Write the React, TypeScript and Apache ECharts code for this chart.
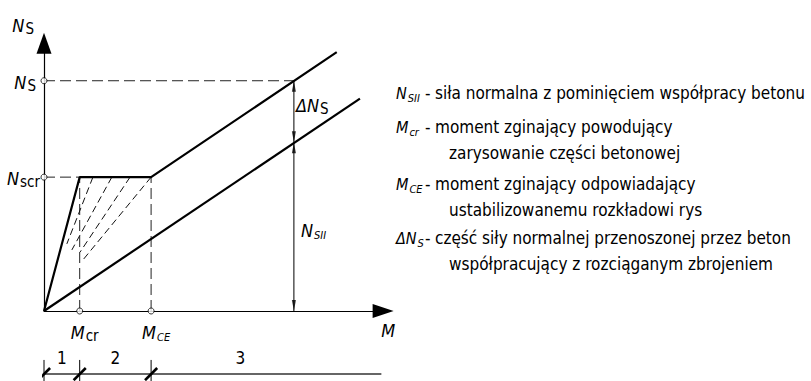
import React, { useEffect, useRef } from "react";
import * as echarts from "echarts";

// Characteristic moments and forces (diagram units)
const M_CR = 1;
const M_CE = 3;
const M_REF = 7;
const N_SCR = 3.75;
const N_S = 6.45;
const N_SII = 4.73;

const X_MAX = 9.5;
const Y_MAX = 7.5;

// Member response including tension stiffening of concrete
const TENSION_PATH: number[][] = [
  [0, 0],
  [M_CR, N_SCR],
  [M_CE, N_SCR],
  [8.2, 7.25],
];
// Bare reinforcement response (fully cracked section)
const STEEL_PATH: number[][] = [
  [0, 0],
  [8.85, 5.95],
];
// Crack formation fan between M_cr and M_CE
const CRACK_FAN: number[][][] = [
  [[1.37, N_SCR], [0.64, 1.88]],
  [[1.9, N_SCR], [0.78, 1.71]],
  [[2.41, N_SCR], [1.01, 1.65]],
  [[M_CE, N_SCR], [1.09, 1.43]],
];
// Stages along the moment axis
const ZONE_BOUNDS = [0, M_CR, M_CE, 8];
const ZONE_LABELS = ["1", "2", "3"];
const DIM_LINE_RANGE = [-0.2, 9.45];

const LEGEND_SYMBOLS = ["{lv|N}{sub|SII}", "{lv|M}{sub|cr}", "{lv|M}{sub|CE}", "{lv|ΔN}{sub|S}"];
const LEGEND_TEXT = [
  ["siła normalna z pominięciem współpracy betonu"],
  ["moment zginający powodujący", "zarysowanie części betonowej"],
  ["moment zginający odpowiadający", "ustabilizowanemu rozkładowi rys"],
  ["część siły normalnej przenoszonej przez beton", "współpracujący z rozciąganym zbrojeniem"],
];

const FONT = "'DejaVu Sans Condensed', 'Liberation Sans Narrow', 'DejaVu Sans', sans-serif";
const INK = "#000";

const RICH = {
  v: { fontSize: 18, fontStyle: "italic", fontFamily: FONT, fill: INK },
  lv: { fontSize: 16, fontStyle: "italic", fontFamily: FONT, fill: INK },
  sub: { fontSize: 11, fontStyle: "italic", fontFamily: FONT, fill: INK, padding: [10, 0, 0, 1] },
  subu: { fontSize: 15, fontFamily: FONT, fill: INK, padding: [7, 0, 0, 1] },
  d: { fontSize: 17, fontFamily: FONT, fill: INK },
};

const GRID_LEFT = 44;
const UNIT = 35.7;
const ORIGIN_Y = 311;

function seg(data: number[][], style: any, z = 3, axis = 0) {
  return {
    type: "line",
    xAxisIndex: axis,
    yAxisIndex: axis,
    data,
    symbol: "none",
    silent: true,
    clip: false,
    z,
    lineStyle: style,
  };
}

export default function App() {
  const ref = useRef<HTMLDivElement>(null);

  useEffect(() => {
    const chart = echarts.init(ref.current!, null, { renderer: "svg" });
    const right = 811 - GRID_LEFT - X_MAX * UNIT;
    const solid = { color: INK, width: 2.2 };
    const thin = { color: INK, width: 1 };
    const dashed = { color: "#222", width: 1, type: [11, 5] };
    const hatch = { color: "#111", width: 1, type: [7, 4] };

    const series: any[] = [
      seg(TENSION_PATH, solid, 5),
      seg(STEEL_PATH, solid, 5),
      seg([[0, N_S], [M_REF, N_S]], dashed),
      seg([[0, N_SCR], [M_CR, N_SCR]], dashed),
      seg([[M_CR, 0], [M_CR, N_SCR]], dashed),
      seg([[M_CE, 0], [M_CE, N_SCR]], dashed),
      ...CRACK_FAN.map((l) => seg(l, hatch)),
      seg([[M_REF, 0], [M_REF, N_S]], thin, 4),
      {
        type: "scatter",
        silent: true,
        z: 6,
        symbol: "triangle",
        symbolSize: [4, 11],
        itemStyle: { color: INK },
        data: [
          { value: [M_REF, N_S], symbolOffset: [0, 5.5] },
          { value: [M_REF, N_SII], symbolRotate: 180, symbolOffset: [0, -5.5] },
          { value: [M_REF, N_SII], symbolOffset: [0, 5.5] },
          { value: [M_REF, 0], symbolRotate: 180, symbolOffset: [0, -5.5] },
        ],
      },
      {
        type: "scatter",
        silent: true,
        z: 7,
        symbol: "circle",
        symbolSize: 6,
        itemStyle: { color: "#fff", borderColor: INK, borderWidth: 1 },
        data: [
          [0, N_S],
          [0, N_SCR],
          [M_CR, 0],
          [M_CE, 0],
        ],
      },
      // stage dimension line
      seg([[DIM_LINE_RANGE[0], 0.27], [DIM_LINE_RANGE[1], 0.27]], { color: "#333", width: 1.3 }, 3, 1),
      ...ZONE_BOUNDS.slice(0, 3).map((m) => seg([[m, 0], [m, 0.81]], { color: INK, width: 1 }, 3, 1)),
      ...ZONE_BOUNDS.slice(0, 3).map((m) =>
        seg([[m - 0.17, 0.03], [m + 0.17, 0.5]], { color: INK, width: 2.6 }, 4, 1)
      ),
    ];

    chart.setOption({
      animation: false,
      grid: [
        { left: GRID_LEFT, right, top: ORIGIN_Y - Y_MAX * UNIT, bottom: 381 - ORIGIN_Y },
        { left: GRID_LEFT, right, top: 355, bottom: 0 },
      ],
      xAxis: [
        {
          type: "value",
          min: 0,
          max: X_MAX,
          gridIndex: 0,
          axisLine: { show: true, symbol: ["none", "triangle"], symbolSize: [14, 21], lineStyle: { color: INK, width: 1.2 } },
          axisTick: { show: false },
          axisLabel: { show: false },
          splitLine: { show: false },
        },
        { type: "value", min: 0, max: X_MAX, gridIndex: 1, show: false },
      ],
      yAxis: [
        {
          type: "value",
          min: 0,
          max: Y_MAX,
          gridIndex: 0,
          axisLine: { show: true, symbol: ["none", "triangle"], symbolSize: [15, 21], lineStyle: { color: INK, width: 1.2 } },
          axisTick: { show: false },
          axisLabel: { show: false },
          splitLine: { show: false },
        },
        { type: "value", min: 0, max: 1, gridIndex: 1, show: false },
      ],
      series,
    });

    const px = (x: number, y: number) => chart.convertToPixel({ xAxisIndex: 0, yAxisIndex: 0 }, [x, y]) as number[];
    const px2 = (x: number, y: number) => chart.convertToPixel({ xAxisIndex: 1, yAxisIndex: 1 }, [x, y]) as number[];

    const label = (text: string, x: number, y: number, align = "left", vAlign = "middle") => ({
      type: "text",
      x,
      y,
      silent: true,
      z: 10,
      style: { text, rich: RICH, align, verticalAlign: vAlign, font: `15px ${FONT}`, fill: INK },
    });

    const top = px(0, Y_MAX);
    const ns = px(0, N_S);
    const nscr = px(0, N_SCR);
    const mcr = px(M_CR, 0);
    const mce = px(M_CE, 0);
    const mEnd = px(X_MAX, 0);
    const dN = px(M_REF, (N_S + N_SII) / 2);
    const nII = px(M_REF, N_SII / 2);

    const graphics: any[] = [
      label("{v|N}{subu|S}", top[0] - 10, top[1] - 18, "right"),
      label("{v|N}{subu|S}", ns[0] - 8, ns[1] + 2, "right"),
      label("{v|N}{subu|scr}", nscr[0] - 4, nscr[1] + 1, "right"),
      label("{v|M}{subu|cr}", mcr[0] + 5, mcr[1] + 21, "center"),
      label("{v|M}{sub|CE}", mce[0] + 5, mce[1] + 21, "center"),
      label("{v|M}", mEnd[0] + 5, mEnd[1] + 19, "center"),
      label("{v|ΔN}{subu|S}", dN[0] + 2, dN[1] - 6, "left"),
      label("{v|N}{sub|SII}", nII[0] + 7, nII[1] + 4, "left"),
    ];

    ZONE_LABELS.forEach((t, i) => {
      const a = px2((ZONE_BOUNDS[i] + ZONE_BOUNDS[i + 1]) / 2, 0);
      graphics.push(label(`{d|${t}}`, a[0], 358, "center"));
    });

    const legendY = [93, 127, 184, 238];
    LEGEND_SYMBOLS.forEach((sym, i) => {
      const y = legendY[i];
      graphics.push(label(sym, 396, y, "left"));
      graphics.push(label("{d|-}", 425, y, "left"));
      graphics.push(label(`{d|${LEGEND_TEXT[i][0]}}`, 435, y, "left"));
      for (let k = 1; k < LEGEND_TEXT[i].length; k++) {
        graphics.push(label(`{d|${LEGEND_TEXT[i][k]}}`, 449, y + 26 * k, "left"));
      }
    });

    chart.setOption({ graphic: graphics });

    return () => chart.dispose();
  }, []);

  return (
    <div
      ref={ref}
      style={{ position: "fixed", left: 0, top: 0, width: 811, height: 381, background: "#fff" }}
    />
  );
}
